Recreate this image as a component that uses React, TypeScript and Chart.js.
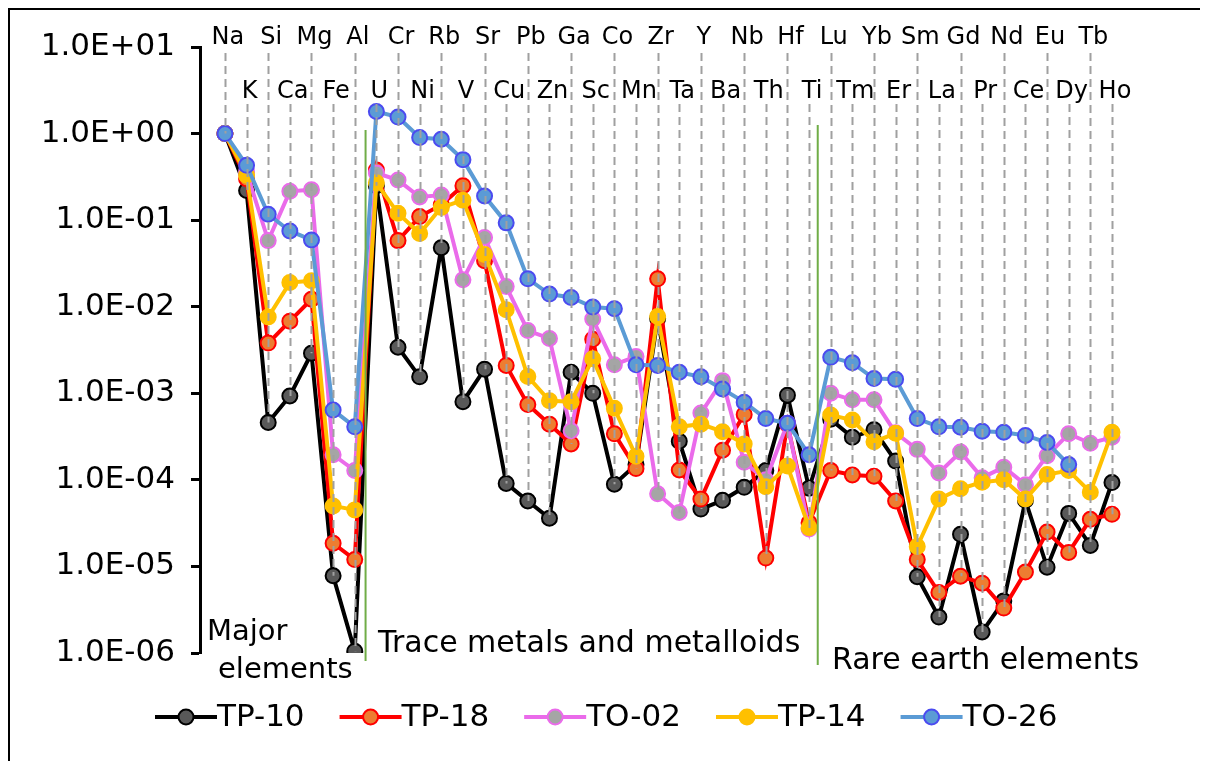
import { useEffect, useRef } from 'react';
import { Chart, registerables } from 'chart.js';

Chart.register(...registerables);

const elementLabels = [
  'Na', 'K', 'Si', 'Ca', 'Mg', 'Fe', 'Al', 'U', 'Cr', 'Ni', 'Rb', 'V', 'Sr', 'Cu',
  'Pb', 'Zn', 'Ga', 'Sc', 'Co', 'Mn', 'Zr', 'Ta', 'Y', 'Ba', 'Nb', 'Th', 'Hf', 'Ti',
  'Lu', 'Tm', 'Yb', 'Er', 'Sm', 'La', 'Gd', 'Pr', 'Nd', 'Ce', 'Eu', 'Dy', 'Tb', 'Ho',
];

const tp10 = [
  1.0, 0.22, 4.6e-4, 9.3e-4, 2.9e-3, 7.8e-6, 1.05e-6, 0.25, 3.4e-3, 1.55e-3, 4.8e-2, 8.0e-4, 1.9e-3, 9.1e-5,
  5.7e-5, 3.6e-5, 1.75e-3, 1.0e-3, 8.9e-5, 1.5e-4, 7.3e-3, 2.8e-4, 4.6e-5, 5.8e-5, 8.2e-5, 1.28e-4, 9.5e-4, 8.0e-5,
  5.0e-4, 3.1e-4, 3.8e-4, 1.65e-4, 7.6e-6, 2.6e-6, 2.35e-5, 1.75e-6, 4.0e-6, 5.8e-5, 9.8e-6, 4.1e-5, 1.75e-5, 9.3e-5,
];

const tp18 = [
  1.0, 0.3, 3.8e-3, 6.8e-3, 1.22e-2, 1.85e-5, 1.2e-5, 0.38, 5.8e-2, 0.11, 0.15, 0.25, 3.4e-2, 2.1e-3,
  7.4e-4, 4.4e-4, 2.6e-4, 4.2e-3, 3.4e-4, 1.35e-4, 2.1e-2, 1.3e-4, 6.0e-5, 2.2e-4, 5.7e-4, 1.25e-5, 4.4e-4, 3.2e-5,
  1.28e-4, 1.14e-4, 1.1e-4, 5.7e-5, 1.2e-5, 5.0e-6, 7.7e-6, 6.4e-6, 3.3e-6, 8.6e-6, 2.5e-5, 1.45e-5, 3.5e-5, 4.0e-5,
];

const to02 = [
  1.0, 0.36, 5.8e-2, 0.215, 0.225, 1.95e-4, 1.28e-4, 0.35, 0.29, 0.185, 0.195, 2.05e-2, 6.3e-2, 1.71e-2,
  5.3e-3, 4.3e-3, 3.7e-4, 7.2e-3, 2.14e-3, 2.66e-3, 6.9e-5, 4.2e-5, 5.9e-4, 1.4e-3, 1.6e-4, 1.0e-4, 4.5e-4, 2.7e-5,
  1.0e-3, 8.4e-4, 8.4e-4, 3.5e-4, 2.25e-4, 1.2e-4, 2.1e-4, 1.06e-4, 1.4e-4, 8.8e-5, 1.9e-4, 3.4e-4, 2.65e-4, 3.1e-4,
];

const tp14 = [
  1.0, 0.33, 7.6e-3, 1.9e-2, 2.0e-2, 5.0e-5, 4.5e-5, 0.27, 0.12, 7.0e-2, 0.14, 0.17, 4.0e-2, 9.2e-3,
  1.56e-3, 8.2e-4, 8.0e-4, 2.5e-3, 6.7e-4, 1.87e-4, 7.7e-3, 4.1e-4, 4.4e-4, 3.6e-4, 2.6e-4, 8.3e-5, 1.45e-4, 2.8e-5,
  5.6e-4, 4.9e-4, 2.75e-4, 3.45e-4, 1.7e-5, 6.0e-5, 7.9e-5, 9.4e-5, 1.0e-4, 6.0e-5, 1.15e-4, 1.28e-4, 7.2e-5, 3.55e-4,
];

const to26 = [
  1.0, 0.43, 0.117, 7.5e-2, 5.9e-2, 6.4e-4, 4.1e-4, 1.8, 1.55, 0.9, 0.86, 0.5, 0.19, 9.3e-2,
  2.1e-2, 1.4e-2, 1.28e-2, 9.9e-3, 9.5e-3, 2.13e-3, 2.1e-3, 1.75e-3, 1.55e-3, 1.12e-3, 7.9e-4, 5.1e-4, 4.5e-4, 1.95e-4,
  2.6e-3, 2.25e-3, 1.48e-3, 1.45e-3, 5.1e-4, 4.1e-4, 4.05e-4, 3.65e-4, 3.55e-4, 3.26e-4, 2.7e-4, 1.5e-4, null, null,
];

const seriesNames = ['TP-10', 'TP-18', 'TO-02', 'TP-14', 'TO-26'];
const seriesValues = [tp10, tp18, to02, tp14, to26];

const yTickValues = [1e-6, 1e-5, 1e-4, 1e-3, 1e-2, 1e-1, 1, 10];
const yTickLabels = ['1.0E-06', '1.0E-05', '1.0E-04', '1.0E-03', '1.0E-02', '1.0E-01', '1.0E+00', '1.0E+01'];

const groupLabels = ['Major', 'elements', 'Trace metals and metalloids', 'Rare earth elements'];

const FONT = '"DejaVu Sans", Verdana, sans-serif';

const styles = [
  { line: '#000000', fill: '#595959', border: '#000000' },
  { line: '#FF0000', fill: '#ED7D31', border: '#FF0000' },
  { line: '#EA6BEA', fill: '#A5A5A5', border: '#EA6BEA' },
  { line: '#FFC000', fill: '#FFC000', border: '#FFC000' },
  { line: '#5B9BD5', fill: '#5B9BD5', border: '#4B4BF0' },
];

const overlayPlugin = {
  id: 'overlay',
  afterDatasetsDraw(chart: any) {
    const { ctx, chartArea, scales } = chart;
    const x = scales.x;
    const y = scales.y;
    ctx.save();
    // dashed drop lines from labels to the lowest value
    ctx.strokeStyle = '#A0A0A0';
    ctx.lineWidth = 2;
    ctx.setLineDash([8, 5]);
    elementLabels.forEach((_, i) => {
      const vals = seriesValues.map((s) => s[i]).filter((v) => v != null) as number[];
      const minV = Math.min(...vals);
      const px = Math.round(x.getPixelForValue(i)) + 0.5;
      const top = chartArea.top + (i % 2 === 0 ? 6 : 57);
      ctx.beginPath();
      ctx.moveTo(px, top);
      ctx.lineTo(px, y.getPixelForValue(minV));
      ctx.stroke();
    });
    ctx.setLineDash([]);
    // green separators
    ctx.strokeStyle = '#70AD47';
    ctx.lineWidth = 2;
    const sep = [
      { v: 6.5, t: 83, b: 614 },
      { v: 27.4, t: 78, b: 618 },
    ];
    sep.forEach((s) => {
      const px = x.getPixelForValue(s.v);
      ctx.beginPath();
      ctx.moveTo(px, chartArea.top + s.t);
      ctx.lineTo(px, chartArea.top + s.b);
      ctx.stroke();
    });
    ctx.restore();
  },
  afterDraw(chart: any) {
    const { ctx, chartArea, scales, width, height } = chart;
    const x = scales.x;
    ctx.save();
    // frame
    ctx.fillStyle = '#000';
    ctx.fillRect(0, 0, width, 2);
    ctx.fillRect(0, 0, 2, height);
    // element labels
    ctx.fillStyle = '#000';
    ctx.font = `24px ${FONT}`;
    ctx.textAlign = 'center';
    ctx.textBaseline = 'alphabetic';
    elementLabels.forEach((name, i) => {
      const px = x.getPixelForValue(i);
      const by = i % 2 === 0 ? chartArea.top - 3 : chartArea.top + 51;
      ctx.fillText(name, px + 3, by);
    });
    // group annotations
    ctx.textAlign = 'left';
    ctx.font = `29px ${FONT}`;
    ctx.fillText(groupLabels[0], 199, chartArea.top + 593);
    ctx.fillText(groupLabels[1], 210, chartArea.top + 631);
    ctx.font = `30px ${FONT}`;
    ctx.fillText(groupLabels[2], 370, chartArea.top + 605);
    ctx.fillText(groupLabels[3], 824, chartArea.top + 622);
    // legend
    ctx.font = `31px ${FONT}`;
    ctx.textBaseline = 'middle';
    let lx = 147;
    const ly = 709;
    seriesNames.forEach((name, k) => {
      const st = styles[k];
      ctx.strokeStyle = st.line;
      ctx.lineWidth = 4;
      ctx.beginPath();
      ctx.moveTo(lx, ly);
      ctx.lineTo(lx + 62, ly);
      ctx.stroke();
      ctx.beginPath();
      ctx.arc(lx + 31, ly, 7.5, 0, Math.PI * 2);
      ctx.fillStyle = st.fill;
      ctx.fill();
      ctx.lineWidth = 2;
      ctx.strokeStyle = st.border;
      ctx.stroke();
      ctx.fillStyle = '#000';
      ctx.fillText(name, lx + 62, ly + 1);
      lx += 62 + ctx.measureText(name).width + 35;
    });
    ctx.restore();
  },
};

export default function App() {
  const canvasRef = useRef<HTMLCanvasElement | null>(null);

  useEffect(() => {
    const canvas = canvasRef.current;
    if (!canvas) return;
    const datasets = seriesNames.map((name, k) => ({
      label: name,
      data: seriesValues[k].map((v, i) => ({ x: i, y: v })),
      borderColor: styles[k].line,
      backgroundColor: styles[k].fill,
      pointBackgroundColor: styles[k].fill,
      pointBorderColor: styles[k].border,
      pointBorderWidth: 2,
      pointRadius: 7.5,
      borderWidth: 4,
      tension: 0,
      spanGaps: false,
      order: 5 - k,
    }));
    const chart = new Chart(canvas, {
      type: 'line',
      data: { datasets },
      options: {
        animation: false,
        responsive: false,
        maintainAspectRatio: false,
        layout: { padding: { top: 39, bottom: 108, left: 0, right: 8 } },
        plugins: {
          legend: { display: false },
          tooltip: { enabled: false },
        },
        scales: {
          x: { type: 'linear', min: -1.153, max: 45, display: false },
          y: {
            type: 'logarithmic',
            min: 1e-6,
            max: 10,
            position: 'left',
            afterBuildTicks: (scale: any) => {
              scale.ticks = yTickValues.map((v) => ({ value: v }));
            },
            afterFit: (scale: any) => {
              scale.width = 192;
            },
            ticks: {
              autoSkip: false,
              padding: 16,
              color: '#000',
              font: { family: FONT, size: 31 },
              callback: (value: any) => {
                const idx = yTickValues.findIndex((v) => Math.abs(Math.log10(v) - Math.log10(Number(value))) < 1e-6);
                return idx >= 0 ? yTickLabels[idx] : '';
              },
            },
            grid: {
              display: true,
              drawOnChartArea: false,
              drawTicks: true,
              tickLength: 9,
              tickColor: '#000',
              tickWidth: 3,
              color: '#000',
            },
            border: { display: true, color: '#000', width: 3 },
          },
        },
      },
      plugins: [overlayPlugin],
    } as any);
    return () => chart.destroy();
  }, []);

  return (
    <div style={{ width: 1200, height: 753, background: '#fff' }}>
      <canvas ref={canvasRef} width={1200} height={753} style={{ display: 'block' }} />
    </div>
  );
}
